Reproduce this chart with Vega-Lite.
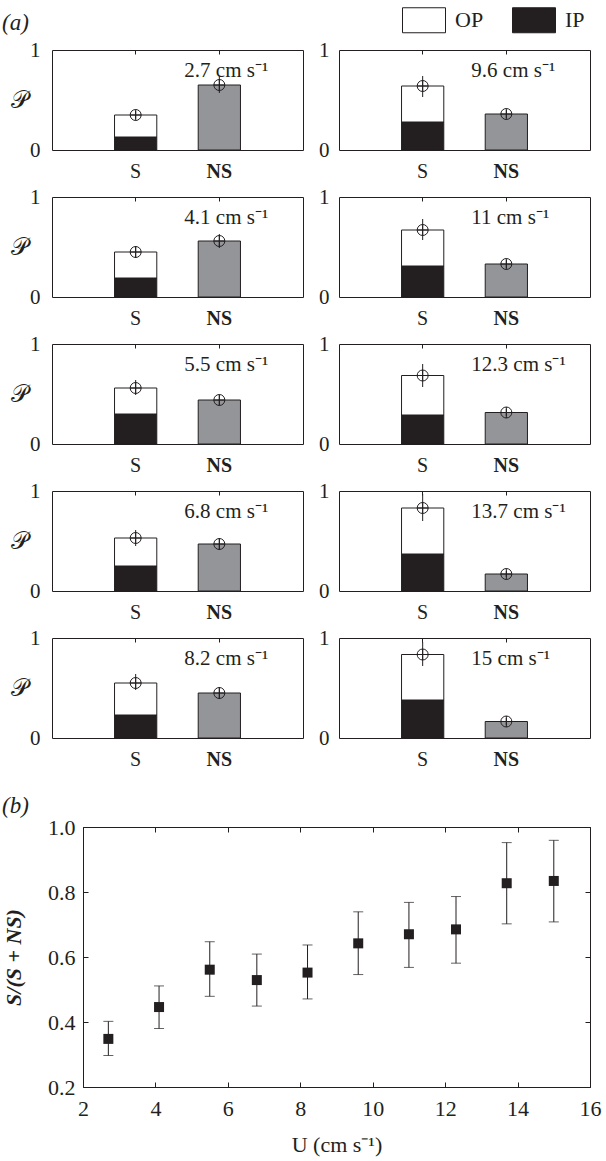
{
  "$schema": "https://vega.github.io/schema/vega-lite/v6.json",
  "padding": {"left": 2, "top": 7, "right": 5, "bottom": 5},
  "background": "white",
  "config": {
    "font": "Liberation Serif",
    "view": {"stroke": "#231f20", "strokeWidth": 1},
    "axis": {"domain": false, "grid": false, "labelFont": "Liberation Serif", "titleFont": "Liberation Serif", "labelColor": "#231f20", "titleColor": "#231f20", "tickColor": "#231f20", "labelFontWeight": "normal", "titleFontWeight": "normal"},
    "title": {"font": "Liberation Serif", "fontSize": 23, "fontWeight": "normal", "color": "#231f20"},
    "bar": {"stroke": "#231f20", "strokeWidth": 1},
    "rule": {"color": "#231f20", "strokeWidth": 1},
    "point": {"shape": "M-1,0A1,1,0,1,0,1,0A1,1,0,1,0,-1,0ZM-1,0L1,0M0,-1L0,1", "size": 121, "filled": false, "stroke": "#231f20", "strokeWidth": 1, "opacity": 1},
    "text": {"align": "left", "baseline": "alphabetic", "dx": -35, "fontSize": 21, "font": "Liberation Serif", "color": "#231f20"}
  },
  "datasets": {
    "panels": [
      {"kind": "bar", "speed": 2.7, "type": "S", "part": "IP", "value": 0.13},
      {"kind": "bar", "speed": 2.7, "type": "S", "part": "OP", "value": 0.22},
      {"kind": "bar", "speed": 2.7, "type": "NS", "part": "NS", "value": 0.65},
      {"kind": "err", "speed": 2.7, "type": "S", "p": 0.35, "lo": 0.31, "hi": 0.39},
      {"kind": "err", "speed": 2.7, "type": "NS", "p": 0.65, "lo": 0.57, "hi": 0.74},
      {"kind": "label", "speed": 2.7, "label": "2.7 cm s⁻¹"},
      {"kind": "bar", "speed": 4.1, "type": "S", "part": "IP", "value": 0.19},
      {"kind": "bar", "speed": 4.1, "type": "S", "part": "OP", "value": 0.26},
      {"kind": "bar", "speed": 4.1, "type": "NS", "part": "NS", "value": 0.56},
      {"kind": "err", "speed": 4.1, "type": "S", "p": 0.45, "lo": 0.39, "hi": 0.51},
      {"kind": "err", "speed": 4.1, "type": "NS", "p": 0.56, "lo": 0.49, "hi": 0.63},
      {"kind": "label", "speed": 4.1, "label": "4.1 cm s⁻¹"},
      {"kind": "bar", "speed": 5.5, "type": "S", "part": "IP", "value": 0.30},
      {"kind": "bar", "speed": 5.5, "type": "S", "part": "OP", "value": 0.26},
      {"kind": "bar", "speed": 5.5, "type": "NS", "part": "NS", "value": 0.44},
      {"kind": "err", "speed": 5.5, "type": "S", "p": 0.56, "lo": 0.49, "hi": 0.64},
      {"kind": "err", "speed": 5.5, "type": "NS", "p": 0.44, "lo": 0.39, "hi": 0.49},
      {"kind": "label", "speed": 5.5, "label": "5.5 cm s⁻¹"},
      {"kind": "bar", "speed": 6.8, "type": "S", "part": "IP", "value": 0.25},
      {"kind": "bar", "speed": 6.8, "type": "S", "part": "OP", "value": 0.28},
      {"kind": "bar", "speed": 6.8, "type": "NS", "part": "NS", "value": 0.47},
      {"kind": "err", "speed": 6.8, "type": "S", "p": 0.53, "lo": 0.45, "hi": 0.61},
      {"kind": "err", "speed": 6.8, "type": "NS", "p": 0.47, "lo": 0.41, "hi": 0.53},
      {"kind": "label", "speed": 6.8, "label": "6.8 cm s⁻¹"},
      {"kind": "bar", "speed": 8.2, "type": "S", "part": "IP", "value": 0.23},
      {"kind": "bar", "speed": 8.2, "type": "S", "part": "OP", "value": 0.32},
      {"kind": "bar", "speed": 8.2, "type": "NS", "part": "NS", "value": 0.45},
      {"kind": "err", "speed": 8.2, "type": "S", "p": 0.55, "lo": 0.48, "hi": 0.64},
      {"kind": "err", "speed": 8.2, "type": "NS", "p": 0.45, "lo": 0.39, "hi": 0.51},
      {"kind": "label", "speed": 8.2, "label": "8.2 cm s⁻¹"},
      {"kind": "bar", "speed": 9.6, "type": "S", "part": "IP", "value": 0.28},
      {"kind": "bar", "speed": 9.6, "type": "S", "part": "OP", "value": 0.36},
      {"kind": "bar", "speed": 9.6, "type": "NS", "part": "NS", "value": 0.36},
      {"kind": "err", "speed": 9.6, "type": "S", "p": 0.64, "lo": 0.53, "hi": 0.74},
      {"kind": "err", "speed": 9.6, "type": "NS", "p": 0.36, "lo": 0.32, "hi": 0.40},
      {"kind": "label", "speed": 9.6, "label": "9.6 cm s⁻¹"},
      {"kind": "bar", "speed": 11, "type": "S", "part": "IP", "value": 0.31},
      {"kind": "bar", "speed": 11, "type": "S", "part": "OP", "value": 0.36},
      {"kind": "bar", "speed": 11, "type": "NS", "part": "NS", "value": 0.33},
      {"kind": "err", "speed": 11, "type": "S", "p": 0.67, "lo": 0.57, "hi": 0.78},
      {"kind": "err", "speed": 11, "type": "NS", "p": 0.33, "lo": 0.29, "hi": 0.37},
      {"kind": "label", "speed": 11, "label": "11 cm s⁻¹"},
      {"kind": "bar", "speed": 12.3, "type": "S", "part": "IP", "value": 0.29},
      {"kind": "bar", "speed": 12.3, "type": "S", "part": "OP", "value": 0.395},
      {"kind": "bar", "speed": 12.3, "type": "NS", "part": "NS", "value": 0.315},
      {"kind": "err", "speed": 12.3, "type": "S", "p": 0.685, "lo": 0.57, "hi": 0.80},
      {"kind": "err", "speed": 12.3, "type": "NS", "p": 0.315, "lo": 0.28, "hi": 0.35},
      {"kind": "label", "speed": 12.3, "label": "12.3 cm s⁻¹"},
      {"kind": "bar", "speed": 13.7, "type": "S", "part": "IP", "value": 0.37},
      {"kind": "bar", "speed": 13.7, "type": "S", "part": "OP", "value": 0.46},
      {"kind": "bar", "speed": 13.7, "type": "NS", "part": "NS", "value": 0.17},
      {"kind": "err", "speed": 13.7, "type": "S", "p": 0.83, "lo": 0.70, "hi": 0.97},
      {"kind": "err", "speed": 13.7, "type": "NS", "p": 0.17, "lo": 0.14, "hi": 0.20},
      {"kind": "label", "speed": 13.7, "label": "13.7 cm s⁻¹"},
      {"kind": "bar", "speed": 15, "type": "S", "part": "IP", "value": 0.38},
      {"kind": "bar", "speed": 15, "type": "S", "part": "OP", "value": 0.455},
      {"kind": "bar", "speed": 15, "type": "NS", "part": "NS", "value": 0.165},
      {"kind": "err", "speed": 15, "type": "S", "p": 0.835, "lo": 0.72, "hi": 0.96},
      {"kind": "err", "speed": 15, "type": "NS", "p": 0.165, "lo": 0.13, "hi": 0.20},
      {"kind": "label", "speed": 15, "label": "15 cm s⁻¹"}
    ],
    "ratio": [
      {"U": 2.7, "r": 0.348, "lo": 0.297, "hi": 0.402},
      {"U": 4.1, "r": 0.446, "lo": 0.380, "hi": 0.511},
      {"U": 5.5, "r": 0.561, "lo": 0.479, "hi": 0.647},
      {"U": 6.8, "r": 0.529, "lo": 0.449, "hi": 0.609},
      {"U": 8.2, "r": 0.552, "lo": 0.471, "hi": 0.637},
      {"U": 9.6, "r": 0.642, "lo": 0.546, "hi": 0.739},
      {"U": 11, "r": 0.670, "lo": 0.568, "hi": 0.768},
      {"U": 12.3, "r": 0.685, "lo": 0.581, "hi": 0.786},
      {"U": 13.7, "r": 0.827, "lo": 0.702, "hi": 0.952},
      {"U": 15, "r": 0.834, "lo": 0.708, "hi": 0.959}
    ]
  },
  "vconcat": [
    {
      "title": {"text": "(a)", "anchor": "start", "frame": "group", "dx": -50, "fontStyle": "italic", "offset": 4},
      "data": {"name": "panels"},
      "columns": 2,
      "spacing": {"row": 47, "column": 36},
      "bounds": "flush",
      "concat": [
        {"width": 251, "height": 100, "transform": [{"filter": "datum.speed == 2.7"}], "resolve": {"axis": {"x": "independent"}}, "layer": [
          {"transform": [{"filter": "datum.kind == 'bar'"}], "mark": "bar", "encoding": {
            "x": {"field": "type", "type": "nominal", "title": null, "scale": {"domain": ["S", "NS"], "paddingInner": 0.495, "paddingOuter": 0.7475}, "axis": {"orient": "bottom", "title": null, "labelAngle": 0, "labelFontSize": 20, "tickSize": -4, "labelPadding": 15, "labelFontWeight": {"condition": {"test": "datum.value == 'NS'", "value": "bold"}, "value": "normal"}}},
            "y": {"field": "value", "type": "quantitative", "stack": "zero", "title": "𝒫", "scale": {"domain": [0, 1]}, "axis": {"values": [0, 1], "format": "d", "ticks": false, "labelFontSize": 21, "labelPadding": 12, "titleAngle": 0, "titleFontSize": 24, "titleAlign": "right", "titleBaseline": "middle", "titlePadding": 2}},
            "color": {"field": "part", "type": "nominal", "scale": {"domain": ["OP", "IP", "NS"], "range": ["#ffffff", "#231f20", "#939598"]}, "legend": {"orient": "none", "legendX": 359, "legendY": -43, "direction": "horizontal", "title": null, "values": ["OP", "IP"], "symbolType": "M-1.72,-1H1.72V1H-1.72Z", "symbolSize": 625, "symbolStrokeColor": "#231f20", "symbolStrokeWidth": 1, "labelFontSize": 22, "labelFont": "Liberation Serif", "labelColor": "#231f20", "labelOffset": 18, "columnPadding": 26}},
            "order": {"field": "part", "sort": "ascending"}}},
          {"transform": [{"filter": "datum.kind == 'err'"}], "mark": "rule", "encoding": {
            "x": {"field": "type", "type": "nominal", "title": null, "axis": {"orient": "top", "labels": false, "title": null, "tickSize": -4}},
            "y": {"field": "lo", "type": "quantitative", "title": "𝒫"}, "y2": {"field": "hi"}}},
          {"transform": [{"filter": "datum.kind == 'err'"}], "mark": "point", "encoding": {
            "x": {"field": "type", "type": "nominal", "axis": null}, "y": {"field": "p", "type": "quantitative", "title": "𝒫"}}},
          {"transform": [{"filter": "datum.kind == 'label'"}], "mark": "text", "encoding": {
            "x": {"datum": "NS", "type": "nominal", "axis": null}, "y": {"datum": 0.73, "type": "quantitative", "title": "𝒫"}, "text": {"field": "label"}}}
        ]},
        {"width": 251, "height": 100, "transform": [{"filter": "datum.speed == 9.6"}], "resolve": {"axis": {"x": "independent"}}, "layer": [
          {"transform": [{"filter": "datum.kind == 'bar'"}], "mark": "bar", "encoding": {
            "x": {"field": "type", "type": "nominal", "title": null, "scale": {"domain": ["S", "NS"], "paddingInner": 0.495, "paddingOuter": 0.7475}, "axis": {"orient": "bottom", "title": null, "labelAngle": 0, "labelFontSize": 20, "tickSize": -4, "labelPadding": 15, "labelFontWeight": {"condition": {"test": "datum.value == 'NS'", "value": "bold"}, "value": "normal"}}},
            "y": {"field": "value", "type": "quantitative", "stack": "zero", "title": null, "scale": {"domain": [0, 1]}, "axis": {"values": [0, 1], "format": "d", "ticks": false, "labelFontSize": 21, "labelPadding": 10, "title": null}},
            "color": {"field": "part", "type": "nominal", "scale": {"domain": ["OP", "IP", "NS"], "range": ["#ffffff", "#231f20", "#939598"]}, "legend": {"orient": "none", "legendX": 359, "legendY": -43, "direction": "horizontal", "title": null, "values": ["OP", "IP"], "symbolType": "M-1.72,-1H1.72V1H-1.72Z", "symbolSize": 625, "symbolStrokeColor": "#231f20", "symbolStrokeWidth": 1, "labelFontSize": 22, "labelFont": "Liberation Serif", "labelColor": "#231f20", "labelOffset": 18, "columnPadding": 26}},
            "order": {"field": "part", "sort": "ascending"}}},
          {"transform": [{"filter": "datum.kind == 'err'"}], "mark": "rule", "encoding": {
            "x": {"field": "type", "type": "nominal", "title": null, "axis": {"orient": "top", "labels": false, "title": null, "tickSize": -4}},
            "y": {"field": "lo", "type": "quantitative", "title": null}, "y2": {"field": "hi"}}},
          {"transform": [{"filter": "datum.kind == 'err'"}], "mark": "point", "encoding": {
            "x": {"field": "type", "type": "nominal", "axis": null}, "y": {"field": "p", "type": "quantitative", "title": null}}},
          {"transform": [{"filter": "datum.kind == 'label'"}], "mark": "text", "encoding": {
            "x": {"datum": "NS", "type": "nominal", "axis": null}, "y": {"datum": 0.73, "type": "quantitative", "title": null}, "text": {"field": "label"}}}
        ]},
        {"width": 251, "height": 100, "transform": [{"filter": "datum.speed == 4.1"}], "resolve": {"axis": {"x": "independent"}}, "layer": [
          {"transform": [{"filter": "datum.kind == 'bar'"}], "mark": "bar", "encoding": {
            "x": {"field": "type", "type": "nominal", "title": null, "scale": {"domain": ["S", "NS"], "paddingInner": 0.495, "paddingOuter": 0.7475}, "axis": {"orient": "bottom", "title": null, "labelAngle": 0, "labelFontSize": 20, "tickSize": -4, "labelPadding": 15, "labelFontWeight": {"condition": {"test": "datum.value == 'NS'", "value": "bold"}, "value": "normal"}}},
            "y": {"field": "value", "type": "quantitative", "stack": "zero", "title": "𝒫", "scale": {"domain": [0, 1]}, "axis": {"values": [0, 1], "format": "d", "ticks": false, "labelFontSize": 21, "labelPadding": 12, "titleAngle": 0, "titleFontSize": 24, "titleAlign": "right", "titleBaseline": "middle", "titlePadding": 2}},
            "color": {"field": "part", "type": "nominal", "scale": {"domain": ["OP", "IP", "NS"], "range": ["#ffffff", "#231f20", "#939598"]}, "legend": {"orient": "none", "legendX": 359, "legendY": -43, "direction": "horizontal", "title": null, "values": ["OP", "IP"], "symbolType": "M-1.72,-1H1.72V1H-1.72Z", "symbolSize": 625, "symbolStrokeColor": "#231f20", "symbolStrokeWidth": 1, "labelFontSize": 22, "labelFont": "Liberation Serif", "labelColor": "#231f20", "labelOffset": 18, "columnPadding": 26}},
            "order": {"field": "part", "sort": "ascending"}}},
          {"transform": [{"filter": "datum.kind == 'err'"}], "mark": "rule", "encoding": {
            "x": {"field": "type", "type": "nominal", "title": null, "axis": {"orient": "top", "labels": false, "title": null, "tickSize": -4}},
            "y": {"field": "lo", "type": "quantitative", "title": "𝒫"}, "y2": {"field": "hi"}}},
          {"transform": [{"filter": "datum.kind == 'err'"}], "mark": "point", "encoding": {
            "x": {"field": "type", "type": "nominal", "axis": null}, "y": {"field": "p", "type": "quantitative", "title": "𝒫"}}},
          {"transform": [{"filter": "datum.kind == 'label'"}], "mark": "text", "encoding": {
            "x": {"datum": "NS", "type": "nominal", "axis": null}, "y": {"datum": 0.73, "type": "quantitative", "title": "𝒫"}, "text": {"field": "label"}}}
        ]},
        {"width": 251, "height": 100, "transform": [{"filter": "datum.speed == 11"}], "resolve": {"axis": {"x": "independent"}}, "layer": [
          {"transform": [{"filter": "datum.kind == 'bar'"}], "mark": "bar", "encoding": {
            "x": {"field": "type", "type": "nominal", "title": null, "scale": {"domain": ["S", "NS"], "paddingInner": 0.495, "paddingOuter": 0.7475}, "axis": {"orient": "bottom", "title": null, "labelAngle": 0, "labelFontSize": 20, "tickSize": -4, "labelPadding": 15, "labelFontWeight": {"condition": {"test": "datum.value == 'NS'", "value": "bold"}, "value": "normal"}}},
            "y": {"field": "value", "type": "quantitative", "stack": "zero", "title": null, "scale": {"domain": [0, 1]}, "axis": {"values": [0, 1], "format": "d", "ticks": false, "labelFontSize": 21, "labelPadding": 10, "title": null}},
            "color": {"field": "part", "type": "nominal", "scale": {"domain": ["OP", "IP", "NS"], "range": ["#ffffff", "#231f20", "#939598"]}, "legend": {"orient": "none", "legendX": 359, "legendY": -43, "direction": "horizontal", "title": null, "values": ["OP", "IP"], "symbolType": "M-1.72,-1H1.72V1H-1.72Z", "symbolSize": 625, "symbolStrokeColor": "#231f20", "symbolStrokeWidth": 1, "labelFontSize": 22, "labelFont": "Liberation Serif", "labelColor": "#231f20", "labelOffset": 18, "columnPadding": 26}},
            "order": {"field": "part", "sort": "ascending"}}},
          {"transform": [{"filter": "datum.kind == 'err'"}], "mark": "rule", "encoding": {
            "x": {"field": "type", "type": "nominal", "title": null, "axis": {"orient": "top", "labels": false, "title": null, "tickSize": -4}},
            "y": {"field": "lo", "type": "quantitative", "title": null}, "y2": {"field": "hi"}}},
          {"transform": [{"filter": "datum.kind == 'err'"}], "mark": "point", "encoding": {
            "x": {"field": "type", "type": "nominal", "axis": null}, "y": {"field": "p", "type": "quantitative", "title": null}}},
          {"transform": [{"filter": "datum.kind == 'label'"}], "mark": "text", "encoding": {
            "x": {"datum": "NS", "type": "nominal", "axis": null}, "y": {"datum": 0.73, "type": "quantitative", "title": null}, "text": {"field": "label"}}}
        ]},
        {"width": 251, "height": 100, "transform": [{"filter": "datum.speed == 5.5"}], "resolve": {"axis": {"x": "independent"}}, "layer": [
          {"transform": [{"filter": "datum.kind == 'bar'"}], "mark": "bar", "encoding": {
            "x": {"field": "type", "type": "nominal", "title": null, "scale": {"domain": ["S", "NS"], "paddingInner": 0.495, "paddingOuter": 0.7475}, "axis": {"orient": "bottom", "title": null, "labelAngle": 0, "labelFontSize": 20, "tickSize": -4, "labelPadding": 15, "labelFontWeight": {"condition": {"test": "datum.value == 'NS'", "value": "bold"}, "value": "normal"}}},
            "y": {"field": "value", "type": "quantitative", "stack": "zero", "title": "𝒫", "scale": {"domain": [0, 1]}, "axis": {"values": [0, 1], "format": "d", "ticks": false, "labelFontSize": 21, "labelPadding": 12, "titleAngle": 0, "titleFontSize": 24, "titleAlign": "right", "titleBaseline": "middle", "titlePadding": 2}},
            "color": {"field": "part", "type": "nominal", "scale": {"domain": ["OP", "IP", "NS"], "range": ["#ffffff", "#231f20", "#939598"]}, "legend": {"orient": "none", "legendX": 359, "legendY": -43, "direction": "horizontal", "title": null, "values": ["OP", "IP"], "symbolType": "M-1.72,-1H1.72V1H-1.72Z", "symbolSize": 625, "symbolStrokeColor": "#231f20", "symbolStrokeWidth": 1, "labelFontSize": 22, "labelFont": "Liberation Serif", "labelColor": "#231f20", "labelOffset": 18, "columnPadding": 26}},
            "order": {"field": "part", "sort": "ascending"}}},
          {"transform": [{"filter": "datum.kind == 'err'"}], "mark": "rule", "encoding": {
            "x": {"field": "type", "type": "nominal", "title": null, "axis": {"orient": "top", "labels": false, "title": null, "tickSize": -4}},
            "y": {"field": "lo", "type": "quantitative", "title": "𝒫"}, "y2": {"field": "hi"}}},
          {"transform": [{"filter": "datum.kind == 'err'"}], "mark": "point", "encoding": {
            "x": {"field": "type", "type": "nominal", "axis": null}, "y": {"field": "p", "type": "quantitative", "title": "𝒫"}}},
          {"transform": [{"filter": "datum.kind == 'label'"}], "mark": "text", "encoding": {
            "x": {"datum": "NS", "type": "nominal", "axis": null}, "y": {"datum": 0.73, "type": "quantitative", "title": "𝒫"}, "text": {"field": "label"}}}
        ]},
        {"width": 251, "height": 100, "transform": [{"filter": "datum.speed == 12.3"}], "resolve": {"axis": {"x": "independent"}}, "layer": [
          {"transform": [{"filter": "datum.kind == 'bar'"}], "mark": "bar", "encoding": {
            "x": {"field": "type", "type": "nominal", "title": null, "scale": {"domain": ["S", "NS"], "paddingInner": 0.495, "paddingOuter": 0.7475}, "axis": {"orient": "bottom", "title": null, "labelAngle": 0, "labelFontSize": 20, "tickSize": -4, "labelPadding": 15, "labelFontWeight": {"condition": {"test": "datum.value == 'NS'", "value": "bold"}, "value": "normal"}}},
            "y": {"field": "value", "type": "quantitative", "stack": "zero", "title": null, "scale": {"domain": [0, 1]}, "axis": {"values": [0, 1], "format": "d", "ticks": false, "labelFontSize": 21, "labelPadding": 10, "title": null}},
            "color": {"field": "part", "type": "nominal", "scale": {"domain": ["OP", "IP", "NS"], "range": ["#ffffff", "#231f20", "#939598"]}, "legend": {"orient": "none", "legendX": 359, "legendY": -43, "direction": "horizontal", "title": null, "values": ["OP", "IP"], "symbolType": "M-1.72,-1H1.72V1H-1.72Z", "symbolSize": 625, "symbolStrokeColor": "#231f20", "symbolStrokeWidth": 1, "labelFontSize": 22, "labelFont": "Liberation Serif", "labelColor": "#231f20", "labelOffset": 18, "columnPadding": 26}},
            "order": {"field": "part", "sort": "ascending"}}},
          {"transform": [{"filter": "datum.kind == 'err'"}], "mark": "rule", "encoding": {
            "x": {"field": "type", "type": "nominal", "title": null, "axis": {"orient": "top", "labels": false, "title": null, "tickSize": -4}},
            "y": {"field": "lo", "type": "quantitative", "title": null}, "y2": {"field": "hi"}}},
          {"transform": [{"filter": "datum.kind == 'err'"}], "mark": "point", "encoding": {
            "x": {"field": "type", "type": "nominal", "axis": null}, "y": {"field": "p", "type": "quantitative", "title": null}}},
          {"transform": [{"filter": "datum.kind == 'label'"}], "mark": "text", "encoding": {
            "x": {"datum": "NS", "type": "nominal", "axis": null}, "y": {"datum": 0.73, "type": "quantitative", "title": null}, "text": {"field": "label"}}}
        ]},
        {"width": 251, "height": 100, "transform": [{"filter": "datum.speed == 6.8"}], "resolve": {"axis": {"x": "independent"}}, "layer": [
          {"transform": [{"filter": "datum.kind == 'bar'"}], "mark": "bar", "encoding": {
            "x": {"field": "type", "type": "nominal", "title": null, "scale": {"domain": ["S", "NS"], "paddingInner": 0.495, "paddingOuter": 0.7475}, "axis": {"orient": "bottom", "title": null, "labelAngle": 0, "labelFontSize": 20, "tickSize": -4, "labelPadding": 15, "labelFontWeight": {"condition": {"test": "datum.value == 'NS'", "value": "bold"}, "value": "normal"}}},
            "y": {"field": "value", "type": "quantitative", "stack": "zero", "title": "𝒫", "scale": {"domain": [0, 1]}, "axis": {"values": [0, 1], "format": "d", "ticks": false, "labelFontSize": 21, "labelPadding": 12, "titleAngle": 0, "titleFontSize": 24, "titleAlign": "right", "titleBaseline": "middle", "titlePadding": 2}},
            "color": {"field": "part", "type": "nominal", "scale": {"domain": ["OP", "IP", "NS"], "range": ["#ffffff", "#231f20", "#939598"]}, "legend": {"orient": "none", "legendX": 359, "legendY": -43, "direction": "horizontal", "title": null, "values": ["OP", "IP"], "symbolType": "M-1.72,-1H1.72V1H-1.72Z", "symbolSize": 625, "symbolStrokeColor": "#231f20", "symbolStrokeWidth": 1, "labelFontSize": 22, "labelFont": "Liberation Serif", "labelColor": "#231f20", "labelOffset": 18, "columnPadding": 26}},
            "order": {"field": "part", "sort": "ascending"}}},
          {"transform": [{"filter": "datum.kind == 'err'"}], "mark": "rule", "encoding": {
            "x": {"field": "type", "type": "nominal", "title": null, "axis": {"orient": "top", "labels": false, "title": null, "tickSize": -4}},
            "y": {"field": "lo", "type": "quantitative", "title": "𝒫"}, "y2": {"field": "hi"}}},
          {"transform": [{"filter": "datum.kind == 'err'"}], "mark": "point", "encoding": {
            "x": {"field": "type", "type": "nominal", "axis": null}, "y": {"field": "p", "type": "quantitative", "title": "𝒫"}}},
          {"transform": [{"filter": "datum.kind == 'label'"}], "mark": "text", "encoding": {
            "x": {"datum": "NS", "type": "nominal", "axis": null}, "y": {"datum": 0.73, "type": "quantitative", "title": "𝒫"}, "text": {"field": "label"}}}
        ]},
        {"width": 251, "height": 100, "transform": [{"filter": "datum.speed == 13.7"}], "resolve": {"axis": {"x": "independent"}}, "layer": [
          {"transform": [{"filter": "datum.kind == 'bar'"}], "mark": "bar", "encoding": {
            "x": {"field": "type", "type": "nominal", "title": null, "scale": {"domain": ["S", "NS"], "paddingInner": 0.495, "paddingOuter": 0.7475}, "axis": {"orient": "bottom", "title": null, "labelAngle": 0, "labelFontSize": 20, "tickSize": -4, "labelPadding": 15, "labelFontWeight": {"condition": {"test": "datum.value == 'NS'", "value": "bold"}, "value": "normal"}}},
            "y": {"field": "value", "type": "quantitative", "stack": "zero", "title": null, "scale": {"domain": [0, 1]}, "axis": {"values": [0, 1], "format": "d", "ticks": false, "labelFontSize": 21, "labelPadding": 10, "title": null}},
            "color": {"field": "part", "type": "nominal", "scale": {"domain": ["OP", "IP", "NS"], "range": ["#ffffff", "#231f20", "#939598"]}, "legend": {"orient": "none", "legendX": 359, "legendY": -43, "direction": "horizontal", "title": null, "values": ["OP", "IP"], "symbolType": "M-1.72,-1H1.72V1H-1.72Z", "symbolSize": 625, "symbolStrokeColor": "#231f20", "symbolStrokeWidth": 1, "labelFontSize": 22, "labelFont": "Liberation Serif", "labelColor": "#231f20", "labelOffset": 18, "columnPadding": 26}},
            "order": {"field": "part", "sort": "ascending"}}},
          {"transform": [{"filter": "datum.kind == 'err'"}], "mark": "rule", "encoding": {
            "x": {"field": "type", "type": "nominal", "title": null, "axis": {"orient": "top", "labels": false, "title": null, "tickSize": -4}},
            "y": {"field": "lo", "type": "quantitative", "title": null}, "y2": {"field": "hi"}}},
          {"transform": [{"filter": "datum.kind == 'err'"}], "mark": "point", "encoding": {
            "x": {"field": "type", "type": "nominal", "axis": null}, "y": {"field": "p", "type": "quantitative", "title": null}}},
          {"transform": [{"filter": "datum.kind == 'label'"}], "mark": "text", "encoding": {
            "x": {"datum": "NS", "type": "nominal", "axis": null}, "y": {"datum": 0.73, "type": "quantitative", "title": null}, "text": {"field": "label"}}}
        ]},
        {"width": 251, "height": 100, "transform": [{"filter": "datum.speed == 8.2"}], "resolve": {"axis": {"x": "independent"}}, "layer": [
          {"transform": [{"filter": "datum.kind == 'bar'"}], "mark": "bar", "encoding": {
            "x": {"field": "type", "type": "nominal", "title": null, "scale": {"domain": ["S", "NS"], "paddingInner": 0.495, "paddingOuter": 0.7475}, "axis": {"orient": "bottom", "title": null, "labelAngle": 0, "labelFontSize": 20, "tickSize": -4, "labelPadding": 15, "labelFontWeight": {"condition": {"test": "datum.value == 'NS'", "value": "bold"}, "value": "normal"}}},
            "y": {"field": "value", "type": "quantitative", "stack": "zero", "title": "𝒫", "scale": {"domain": [0, 1]}, "axis": {"values": [0, 1], "format": "d", "ticks": false, "labelFontSize": 21, "labelPadding": 12, "titleAngle": 0, "titleFontSize": 24, "titleAlign": "right", "titleBaseline": "middle", "titlePadding": 2}},
            "color": {"field": "part", "type": "nominal", "scale": {"domain": ["OP", "IP", "NS"], "range": ["#ffffff", "#231f20", "#939598"]}, "legend": {"orient": "none", "legendX": 359, "legendY": -43, "direction": "horizontal", "title": null, "values": ["OP", "IP"], "symbolType": "M-1.72,-1H1.72V1H-1.72Z", "symbolSize": 625, "symbolStrokeColor": "#231f20", "symbolStrokeWidth": 1, "labelFontSize": 22, "labelFont": "Liberation Serif", "labelColor": "#231f20", "labelOffset": 18, "columnPadding": 26}},
            "order": {"field": "part", "sort": "ascending"}}},
          {"transform": [{"filter": "datum.kind == 'err'"}], "mark": "rule", "encoding": {
            "x": {"field": "type", "type": "nominal", "title": null, "axis": {"orient": "top", "labels": false, "title": null, "tickSize": -4}},
            "y": {"field": "lo", "type": "quantitative", "title": "𝒫"}, "y2": {"field": "hi"}}},
          {"transform": [{"filter": "datum.kind == 'err'"}], "mark": "point", "encoding": {
            "x": {"field": "type", "type": "nominal", "axis": null}, "y": {"field": "p", "type": "quantitative", "title": "𝒫"}}},
          {"transform": [{"filter": "datum.kind == 'label'"}], "mark": "text", "encoding": {
            "x": {"datum": "NS", "type": "nominal", "axis": null}, "y": {"datum": 0.73, "type": "quantitative", "title": "𝒫"}, "text": {"field": "label"}}}
        ]},
        {"width": 251, "height": 100, "transform": [{"filter": "datum.speed == 15"}], "resolve": {"axis": {"x": "independent"}}, "layer": [
          {"transform": [{"filter": "datum.kind == 'bar'"}], "mark": "bar", "encoding": {
            "x": {"field": "type", "type": "nominal", "title": null, "scale": {"domain": ["S", "NS"], "paddingInner": 0.495, "paddingOuter": 0.7475}, "axis": {"orient": "bottom", "title": null, "labelAngle": 0, "labelFontSize": 20, "tickSize": -4, "labelPadding": 15, "labelFontWeight": {"condition": {"test": "datum.value == 'NS'", "value": "bold"}, "value": "normal"}}},
            "y": {"field": "value", "type": "quantitative", "stack": "zero", "title": null, "scale": {"domain": [0, 1]}, "axis": {"values": [0, 1], "format": "d", "ticks": false, "labelFontSize": 21, "labelPadding": 10, "title": null}},
            "color": {"field": "part", "type": "nominal", "scale": {"domain": ["OP", "IP", "NS"], "range": ["#ffffff", "#231f20", "#939598"]}, "legend": {"orient": "none", "legendX": 359, "legendY": -43, "direction": "horizontal", "title": null, "values": ["OP", "IP"], "symbolType": "M-1.72,-1H1.72V1H-1.72Z", "symbolSize": 625, "symbolStrokeColor": "#231f20", "symbolStrokeWidth": 1, "labelFontSize": 22, "labelFont": "Liberation Serif", "labelColor": "#231f20", "labelOffset": 18, "columnPadding": 26}},
            "order": {"field": "part", "sort": "ascending"}}},
          {"transform": [{"filter": "datum.kind == 'err'"}], "mark": "rule", "encoding": {
            "x": {"field": "type", "type": "nominal", "title": null, "axis": {"orient": "top", "labels": false, "title": null, "tickSize": -4}},
            "y": {"field": "lo", "type": "quantitative", "title": null}, "y2": {"field": "hi"}}},
          {"transform": [{"filter": "datum.kind == 'err'"}], "mark": "point", "encoding": {
            "x": {"field": "type", "type": "nominal", "axis": null}, "y": {"field": "p", "type": "quantitative", "title": null}}},
          {"transform": [{"filter": "datum.kind == 'label'"}], "mark": "text", "encoding": {
            "x": {"datum": "NS", "type": "nominal", "axis": null}, "y": {"datum": 0.73, "type": "quantitative", "title": null}, "text": {"field": "label"}}}
        ]}
      ]
    },
    {
      "title": {"text": "(b)", "anchor": "start", "frame": "group", "dx": -50, "fontStyle": "italic", "offset": -2},
      "spacing": 0,
      "bounds": "flush",
      "hconcat": [
        {
          "width": 31,
          "height": 260,
          "data": {"values": []},
          "view": {"stroke": null},
          "mark": {"type": "square", "opacity": 0},
          "encoding": {}
        },
        {
          "data": {"name": "ratio"},
          "width": 507,
          "height": 260,
          "resolve": {"axis": {"x": "independent", "y": "independent"}},
          "layer": [
            {
              "mark": {"type": "errorbar", "ticks": true, "size": 10, "thickness": 1, "color": "#231f20"},
              "encoding": {
                "x": {"field": "U", "type": "quantitative", "scale": {"domain": [2, 16]},
                      "axis": {"orient": "bottom", "values": [2, 4, 6, 8, 10, 12, 14, 16], "title": "U (cm s⁻¹)", "tickSize": -5, "labelPadding": 16, "labelFontSize": 22, "titleFontSize": 22, "titlePadding": 15, "labelFlush": false}},
                "y": {"field": "lo", "type": "quantitative", "scale": {"domain": [0.2, 1]},
                      "axis": {"orient": "left", "values": [0.2, 0.4, 0.6, 0.8, 1.0], "format": ".1f", "title": "S/(S + NS)", "tickSize": -5, "labelPadding": 13, "labelFontSize": 22, "titleFontSize": 22, "titleFontStyle": "italic", "titleFontWeight": "bold", "titlePadding": 22}},
                "y2": {"field": "hi"}
              }
            },
            {
              "mark": {"type": "square", "size": 100, "color": "#231f20", "opacity": 1},
              "encoding": {
                "x": {"field": "U", "type": "quantitative", "axis": {"orient": "top", "values": [2, 4, 6, 8, 10, 12, 14, 16], "labels": false, "title": null, "tickSize": -5}},
                "y": {"field": "r", "type": "quantitative", "axis": {"orient": "right", "values": [0.2, 0.4, 0.6, 0.8, 1.0], "labels": false, "title": null, "tickSize": -5}}
              }
            }
          ]
        }
      ]
    }
  ],
  "spacing": 24
}
